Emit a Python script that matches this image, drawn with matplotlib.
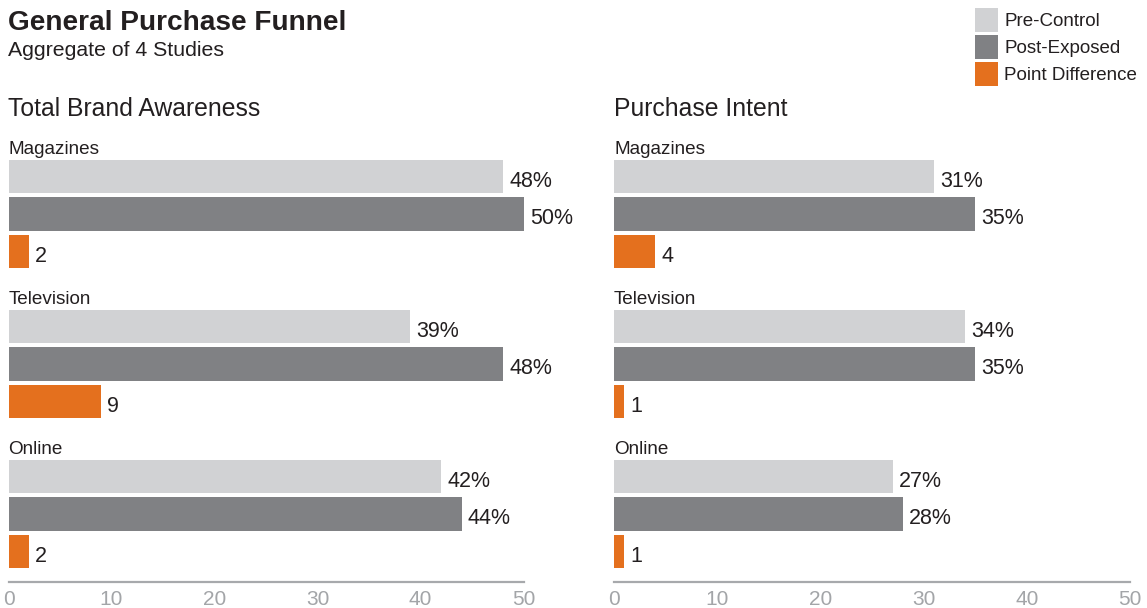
import matplotlib.pyplot as plt
import numpy as np

# data
channels = ['Magazines', 'Television', 'Online']
series = ['Pre-Control', 'Post-Exposed', 'Point Difference']
awareness_pre = [48, 39, 42]
awareness_post = [50, 48, 44]
awareness_diff = [2, 9, 2]
intent_pre = [31, 34, 27]
intent_post = [35, 35, 28]
intent_diff = [4, 1, 1]

colors = ['#d1d2d4', '#808184', '#e4701e']
text_color = '#231f20'
tick_color = '#a3a5a8'

plt.rcParams['font.family'] = ['Liberation Sans', 'DejaVu Sans']

W, H = 1147, 608
fig = plt.figure(figsize=(W / 100, H / 100), dpi=100)

# pixel layout helpers
px_per_unit = 37.5
y0_px = 176.5            # centre of first bar
axis_px = 582
top_val = -1.2
bottom_val = (axis_px - y0_px) / px_per_unit
top_px = y0_px + top_val * px_per_unit


def draw_panel(left_px, right_px, title, pre, post, diff):
    ax = fig.add_axes([left_px / W, 1 - axis_px / H,
                       (right_px - left_px) / W, (axis_px - top_px) / H])
    handles = []
    for j, (vals, col) in enumerate(zip([pre, post, diff], colors)):
        ys = np.arange(len(channels)) * 4 + j
        b = ax.barh(ys, vals, height=0.9, color=col, label=series[j])
        handles.append(b)
        for y, v in zip(ys, vals):
            lab = f'{v}' if j == 2 else f'{v}%'
            ax.annotate(lab, (v, y), xytext=(4.5, -3.3), textcoords='offset points',
                        va='center', ha='left', fontsize=15.5, color=text_color)
    for g, name in enumerate(channels):
        ax.annotate(name, (0, g * 4 - 0.82), xytext=(0, -2.5),
                    textcoords='offset points', va='center', ha='left',
                    fontsize=13.6, color=text_color)
    ax.set_xlim(0, 50)
    ax.set_ylim(bottom_val, top_val)
    ax.set_xticks(range(0, 51, 10))
    ax.set_yticks([])
    ax.tick_params(axis='x', length=0, pad=6, labelsize=15, labelcolor=tick_color)
    for s in ['left', 'top', 'right']:
        ax.spines[s].set_visible(False)
    ax.spines['bottom'].set_color('#a7a9ac')
    ax.spines['bottom'].set_linewidth(1.6)
    ax.patch.set_alpha(0)
    fig.text(left_px / W, 1 - 109 / H, title, fontsize=17.8, color=text_color,
             va='center', ha='left')
    return handles


handles = draw_panel(8.5, 523.5, 'Total Brand Awareness',
                     awareness_pre, awareness_post, awareness_diff)
draw_panel(614, 1130, 'Purchase Intent', intent_pre, intent_post, intent_diff)

fig.text(8 / W, 1 - 23 / H, 'General Purchase Funnel', fontsize=20.2,
         fontweight='bold', color=text_color, va='center', ha='left')
fig.text(8 / W, 1 - 51 / H, 'Aggregate of 4 Studies', fontsize=15.3,
         color=text_color, va='center', ha='left')

fig.legend(handles=handles, labels=series, loc='upper left',
           bbox_to_anchor=(975 / W, 1 - 8 / H), frameon=False,
           fontsize=13.5, handlelength=1.25, handleheight=1.6,
           labelspacing=0.15, handletextpad=0.3, borderpad=0, borderaxespad=0,
           labelcolor=text_color)

plt.savefig('out.png', dpi=100)
